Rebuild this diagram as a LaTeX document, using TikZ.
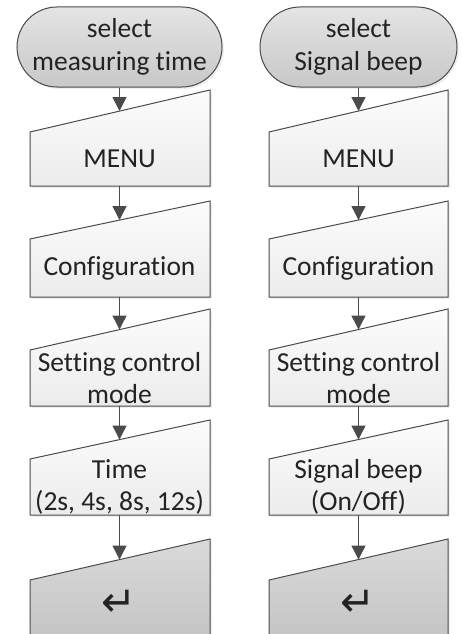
\documentclass[tikz,border=0pt]{standalone}
\usepackage{fontspec}
\setmainfont{Carlito}[Ligatures={NoCommon,NoRare}]
\newfontfamily\symfont{DejaVu Sans}
\usetikzlibrary{arrows.meta,shadows}
\definecolor{edge}{RGB}{75,75,75}
\definecolor{txt}{RGB}{35,35,35}
\definecolor{termtop}{RGB}{228,228,228}
\definecolor{termbot}{RGB}{200,200,200}
\definecolor{boxtop}{RGB}{252,252,252}
\definecolor{boxbot}{RGB}{236,236,236}
\definecolor{endtop}{RGB}{218,218,218}
\definecolor{endbot}{RGB}{196,196,196}
\tikzset{
  shad/.style={drop shadow={opacity=0.12,shadow xshift=2pt,shadow yshift=-2pt}},
  term/.style={draw=edge,line width=1pt,rounded corners=40pt,top color=termtop,bottom color=termbot,
    minimum height=80pt,text=txt,align=center,font=\fontsize{27.5}{33}\selectfont,shad},
  manbox/.style={draw=edge,line width=1pt,top color=boxtop,bottom color=boxbot,shad},
  endbox/.style={draw=edge,line width=1pt,top color=endtop,bottom color=endbot,shad},
  lbl/.style={inner sep=0pt,minimum width=180pt,text=txt,align=center,font=\fontsize{27.5}{32}\selectfont},
  retsym/.style={lbl,font=\symfont\fontsize{42}{46}\selectfont},
  conn/.style={draw=edge,line width=1.4pt,-{Triangle[width=14pt,length=14pt]}}
}
\begin{document}
\begin{tikzpicture}[x=1pt,y=-1pt]
\useasboundingbox (0,0) rectangle (461,634);
\fill[white] (0,0) rectangle (461,634);
\clip (0,0) rectangle (461,634);
% ---------- left column (x 30..210) ----------
\node[term,minimum width=205pt] (tL) at (119.5,47) {select\\measuring time};
\path[manbox] (30,132) -- (210,90) -- (210,186) -- (30,186) -- cycle;
\node[lbl,minimum height=54pt] (mL) at (119.5,159) {MENU};
\coordinate (mLt) at (119.5,111);
\path[manbox] (30,239) -- (210,201) -- (210,297) -- (30,297) -- cycle;
\node[lbl,minimum height=58pt] (cL) at (119.5,268) {Configuration};
\coordinate (cLt) at (119.5,220);
\path[manbox] (30,350) -- (210,309) -- (210,406) -- (30,406) -- cycle;
\node[lbl,minimum height=56pt] (sL) at (119.5,378) {Setting control\\mode};
\coordinate (sLt) at (119.5,329.5);
\path[manbox] (30,459) -- (210,420) -- (210,515) -- (30,515) -- cycle;
\node[lbl,minimum height=56pt] (vL) at (119.5,487) {Time\\(2s, 4s, 8s, 12s)};
\coordinate (vLt) at (119.5,439.5);
\path[endbox] (30,580) -- (210,539) -- (210,640) -- (30,640) -- cycle;
\node[retsym,minimum height=54pt] (eL) at (119.5,603) {↵};
\coordinate (eLt) at (119.5,559.5);
\draw[conn] (tL.south) -- (mLt);
\draw[conn] (mL.south) -- (cLt);
\draw[conn] (cL.south) -- (sLt);
\draw[conn] (sL.south) -- (vLt);
\draw[conn] (vL.south) -- (eLt);
% ---------- right column (x 269..448) ----------
\node[term,minimum width=197pt] (tR) at (358.5,47) {select\\Signal beep};
\path[manbox] (269,132) -- (448,90) -- (448,186) -- (269,186) -- cycle;
\node[lbl,minimum height=54pt] (mR) at (358.5,159) {MENU};
\coordinate (mRt) at (358.5,111);
\path[manbox] (269,239) -- (448,201) -- (448,297) -- (269,297) -- cycle;
\node[lbl,minimum height=58pt] (cR) at (358.5,268) {Configuration};
\coordinate (cRt) at (358.5,220);
\path[manbox] (269,350) -- (448,309) -- (448,406) -- (269,406) -- cycle;
\node[lbl,minimum height=56pt] (sR) at (358.5,378) {Setting control\\mode};
\coordinate (sRt) at (358.5,329.5);
\path[manbox] (269,459) -- (448,420) -- (448,515) -- (269,515) -- cycle;
\node[lbl,minimum height=56pt] (vR) at (358.5,487) {Signal beep\\(On/Off)};
\coordinate (vRt) at (358.5,439.5);
\path[endbox] (269,580) -- (448,539) -- (448,640) -- (269,640) -- cycle;
\node[retsym,minimum height=54pt] (eR) at (358.5,603) {↵};
\coordinate (eRt) at (358.5,559.5);
\draw[conn] (tR.south) -- (mRt);
\draw[conn] (mR.south) -- (cRt);
\draw[conn] (cR.south) -- (sRt);
\draw[conn] (sR.south) -- (vRt);
\draw[conn] (vR.south) -- (eRt);
\end{tikzpicture}
\end{document}
